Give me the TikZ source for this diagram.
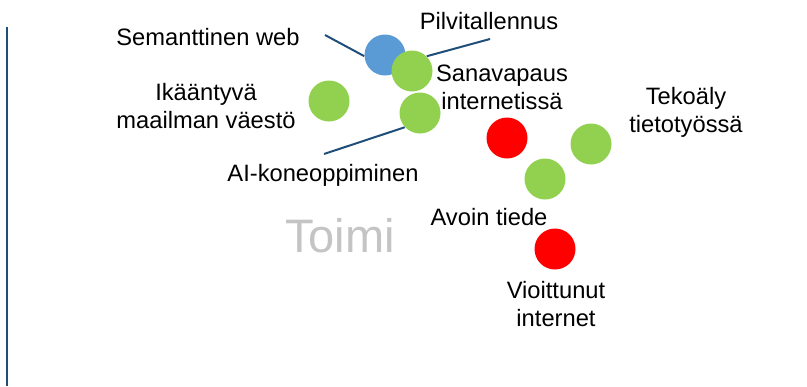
\documentclass[tikz,border=0pt]{standalone}
\usepackage{fontspec}
\setmainfont{Liberation Sans}

\definecolor{tummasin}{HTML}{1F4E79}
\definecolor{sininen}{HTML}{5B9BD5}
\definecolor{vihrea}{HTML}{92D050}
\definecolor{punainen}{HTML}{FF0000}
\definecolor{harmaa}{HTML}{C4C4C4}

\tikzset{
  pallo/.style={circle,inner sep=0pt,minimum size=20.5pt},
  teksti/.style={font=\fontsize{11.85}{14}\selectfont,align=center,inner sep=0pt},
  viiva/.style={draw=tummasin,line width=1pt}
}

\begin{document}
\begin{tikzpicture}[x=0.5pt,y=-0.5pt]
    \useasboundingbox (0,0) rectangle (807,386);

    % pystyviiva vasemmalla
    \draw[viiva] (7,27) -- (7,386);

    % pallot
    \node[pallo,fill=sininen] (sem) at (385,55) {};
    \node[pallo,fill=vihrea] (pil) at (412,71) {};
    \node[pallo,fill=vihrea] (ai) at (420,113) {};
    \node[pallo,fill=vihrea] (ika) at (329,101) {};
    \node[pallo,fill=punainen] (san) at (507,138) {};
    \node[pallo,fill=vihrea] (tek) at (591,144) {};
    \node[pallo,fill=vihrea] (avo) at (545,179) {};
    \node[pallo,fill=punainen] (vio) at (555,249) {};

    % tekstit
    \node[teksti] (semt) at (208,37) {Semanttinen web};
    \node[teksti] (pilt) at (489,21) {Pilvitallennus};
    \node[teksti] (sant) at (502,87) {Sanavapaus\\internetissä};
    \node[teksti] (ikat) at (206,106) {Ikääntyvä\\maailman väestö};
    \node[teksti] (ait) at (323,175) {AI-koneoppiminen};
    \node[teksti] (tekt) at (686,112) {Tekoäly\\tietotyössä};
    \node[teksti] (avot) at (489,217) {Avoin tiede};
    \node[teksti] (viot) at (556,304) {Vioittunut\\internet};
    \node[font=\fontsize{23.5}{28}\selectfont,text=harmaa,inner sep=0pt] (toimi) at (340,236) {Toimi};

    % viivat
    \coordinate (semA) at (325,35);
    \coordinate (pilA) at (490,39);
    \coordinate (aiA) at (324,154);
    \draw[viiva] (semA) -- (sem.183);
    \draw[viiva] (pilA) -- (pil.45);
    \draw[viiva] (aiA) -- (ai.223);
\end{tikzpicture}
\end{document}
